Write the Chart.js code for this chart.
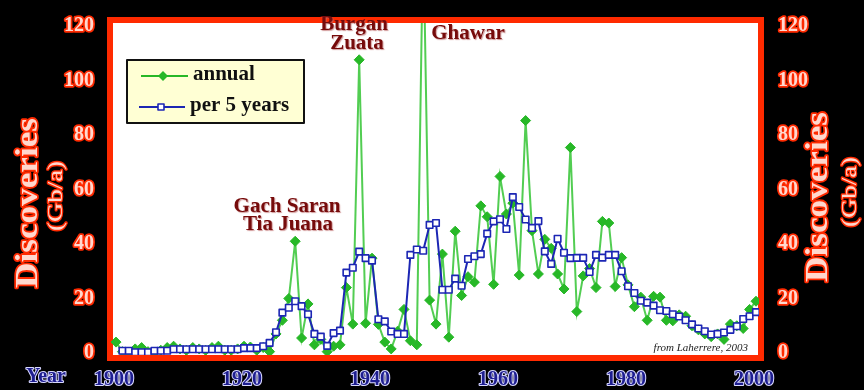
<!DOCTYPE html>
<html>
<head>
<meta charset="utf-8">
<script src="https://cdn.jsdelivr.net/npm/chart.js@4.4.1/dist/chart.umd.min.js"></script>
<style>
  html, body { margin: 0; padding: 0; background: #000; }
  #wrap { width: 864px; height: 390px; }
</style>
</head>
<body>
<div id="wrap"><canvas id="discoveriesChart" width="864" height="390"></canvas></div>
<script>
// Oil discoveries per year and the 5-year running figure, Gb per year
const annualYears = [
  1900, 1901, 1902, 1903, 1904, 1905, 1906, 1907, 1908, 1909,
  1910, 1911, 1912, 1913, 1914, 1915, 1916, 1917, 1918, 1919,
  1920, 1921, 1922, 1923, 1924, 1925, 1926, 1927, 1928, 1929,
  1930, 1931, 1932, 1933, 1934, 1935, 1936, 1937, 1938, 1939,
  1940, 1941, 1942, 1943, 1944, 1945, 1946, 1947, 1948, 1949,
  1950, 1951, 1952, 1953, 1954, 1955, 1956, 1957, 1958, 1959,
  1960, 1961, 1962, 1963, 1964, 1965, 1966, 1967, 1968, 1969,
  1970, 1971, 1972, 1973, 1974, 1975, 1976, 1977, 1978, 1979,
  1980, 1981, 1982, 1983, 1984, 1985, 1986, 1987, 1988, 1989,
  1990, 1991, 1992, 1993, 1994, 1995, 1996, 1997, 1998, 1999,
  2000
];
const annualGb = [
  4, 0.5, 0.3, 1.5, 2, 0.5, 0.3, 1, 2, 2.5,
  1.5, 1, 2, 1.5, 1, 2, 2.5, 1, 1, 1.5,
  2.5, 2.2, 1, 2, 0.5, 7, 12, 20, 41, 5.5,
  18, 3, 5, 0.5, 2.5, 3, 24, 10.6, 107.6, 10.9,
  34.8, 10.5, 4, 1.5, 8, 16, 4.5, 3, 155, 19.4,
  10.6, 36.3, 5.8, 44.7, 21.1, 28, 26, 54, 50, 25.2,
  64.8, 51, 55, 28.6, 85.3, 44.9, 29, 41.7, 38.4, 29,
  23.5, 75.4, 15.2, 28.3, 31, 24, 48.3, 47.7, 24.4, 35,
  25, 17, 20.5, 12, 20.8, 20.5, 12, 11.8, 14, 13.5,
  10, 8.5, 7, 6, 7, 5, 10.6, 10, 9, 16,
  19
];

const fiveYearYears = [
  1901, 1902, 1903, 1904, 1905, 1906, 1907, 1908, 1909, 1910,
  1911, 1912, 1913, 1914, 1915, 1916, 1917, 1918, 1919, 1920,
  1921, 1922, 1923, 1924, 1925, 1926, 1927, 1928, 1929, 1930,
  1931, 1932, 1933, 1934, 1935, 1936, 1937, 1938, 1939, 1940,
  1941, 1942, 1943, 1944, 1945, 1946, 1947, 1948, 1949, 1950,
  1951, 1952, 1953, 1954, 1955, 1956, 1957, 1958, 1959, 1960,
  1961, 1962, 1963, 1964, 1965, 1966, 1967, 1968, 1969, 1970,
  1971, 1972, 1973, 1974, 1975, 1976, 1977, 1978, 1979, 1980,
  1981, 1982, 1983, 1984, 1985, 1986, 1987, 1988, 1989, 1990,
  1991, 1992, 1993, 1994, 1995, 1996, 1997, 1998, 1999, 2000
];
const fiveYearGb = [
  0.8, 0.8, 0.3, 0.3, 0.3, 0.8, 0.8, 0.8, 1.4, 1.4,
  1.4, 1.4, 1.4, 1.4, 1.4, 1.4, 1.4, 1.4, 1.4, 1.8,
  1.8, 1.8, 2.5, 3.7, 7.6, 14.8, 16.6, 19, 17.2, 14.2,
  7, 6, 2.6, 7.3, 8.2, 29.5, 31.3, 37.2, 34.8, 33.9,
  12.4, 11.6, 7.9, 7, 7, 36, 38, 37.5, 47, 47.7,
  23.2, 23.2, 27.3, 24.7, 34.5, 35.5, 36.3, 43.8, 48.3, 49.1,
  45.5, 57.2, 53.6, 49, 45.9, 48.4, 37.3, 32.7, 41.9, 36.8,
  34.8, 34.9, 34.9, 29.7, 36, 35, 36, 36, 30, 24.5,
  22, 19.2, 18.5, 17.4, 15.7, 15.4, 14.2, 13.4, 12, 10.5,
  9, 8, 6.8, 7, 7.5, 8.5, 9.8, 12.5, 13.5, 15
];

const yearTicks = [1900, 1920, 1940, 1960, 1980, 2000];
const discoveryTicks = [0, 20, 40, 60, 80, 100, 120];

const SERIF = '"Liberation Serif", "Times New Roman", serif';
const RED = '#ff2a00';
const GREEN = '#27b827';
const BLUE = '#1c26b4';

function outlined(ctx, text, x, y, fill, stroke, width) {
  if (width) {
    ctx.strokeStyle = stroke;
    ctx.lineWidth = width;
    ctx.strokeText(text, x, y);
  }
  ctx.fillStyle = fill;
  ctx.fillText(text, x, y);
}

// rotated axis title, stretched along its length to the given size
function sideTitle(ctx, text, cx, cy, font, length, strokeW) {
  ctx.save();
  ctx.translate(cx, cy);
  ctx.rotate(-Math.PI / 2);
  ctx.font = font;
  const w = ctx.measureText(text).width;
  ctx.scale(length / w, 1);
  ctx.textAlign = 'center';
  ctx.textBaseline = 'middle';
  ctx.lineJoin = 'round';
  outlined(ctx, text, 0, 0, '#ffd8ce', RED, strokeW);
  ctx.restore();
}

// black page, red frame and white plotting field
const framePlugin = {
  id: 'frame',
  beforeDraw(chart) {
    const ctx = chart.ctx;
    const a = chart.chartArea;
    ctx.lineJoin = 'round';
    ctx.save();
    ctx.fillStyle = '#000';
    ctx.fillRect(0, 0, chart.width, chart.height);
    ctx.fillStyle = RED;
    ctx.fillRect(a.left - 9, a.top - 9, a.right - a.left + 17, a.bottom - a.top + 17);
    ctx.fillStyle = '#fff';
    ctx.fillRect(a.left - 3, a.top - 3, a.right - a.left + 5, a.bottom - a.top + 5);
    ctx.restore();
  }
};

// legend box, field names, source note and axis titles
const labelPlugin = {
  id: 'labels',
  afterDatasetsDraw(chart) {
    const ctx = chart.ctx;
    ctx.save();
    ctx.lineJoin = 'round';

    // legend
    ctx.fillStyle = '#ffffd4';
    ctx.fillRect(127, 60, 177, 63);
    ctx.strokeStyle = '#111';
    ctx.lineWidth = 2;
    ctx.strokeRect(127, 60, 177, 63);

    ctx.strokeStyle = GREEN;
    ctx.lineWidth = 2;
    ctx.beginPath(); ctx.moveTo(141, 76); ctx.lineTo(188, 76); ctx.stroke();
    ctx.fillStyle = GREEN;
    ctx.beginPath();
    ctx.moveTo(163, 71); ctx.lineTo(168, 76); ctx.lineTo(163, 81); ctx.lineTo(158, 76);
    ctx.closePath(); ctx.fill();

    ctx.strokeStyle = BLUE;
    ctx.beginPath(); ctx.moveTo(139, 107); ctx.lineTo(185, 107); ctx.stroke();
    ctx.fillStyle = '#fff';
    ctx.fillRect(158, 104, 6, 6);
    ctx.lineWidth = 1.6;
    ctx.strokeRect(158, 104, 6, 6);

    ctx.font = 'bold 21px ' + SERIF;
    ctx.textAlign = 'left';
    ctx.textBaseline = 'middle';
    ctx.fillStyle = '#111';
    ctx.fillText('annual', 193, 75);
    ctx.fillText('per 5 years', 190, 106);

    // field names
    ctx.font = 'bold 21px ' + SERIF;
    ctx.textAlign = 'center';
    ctx.shadowColor = 'rgba(190, 110, 110, 0.7)';
    ctx.shadowOffsetX = 1;
    ctx.shadowOffsetY = 1;
    ctx.shadowBlur = 1;
    ctx.fillStyle = '#760b0b';
    ctx.fillText('Burgan', 354, 25);
    ctx.fillText('Zuata', 357, 44);
    ctx.fillText('Ghawar', 468, 34);
    ctx.fillText('Gach Saran', 287, 207);
    ctx.fillText('Tia Juana', 288, 225);
    ctx.shadowColor = 'transparent';

    // source note
    ctx.font = 'italic 11px ' + SERIF;
    ctx.textAlign = 'right';
    ctx.fillStyle = '#222';
    ctx.fillText('from Laherrere, 2003', 748, 348);

    ctx.restore();
  },
  afterDraw(chart) {
    const ctx = chart.ctx;
    ctx.save();
    ctx.lineJoin = 'round';
    ctx.font = 'bold 20px ' + SERIF;
    ctx.textAlign = 'center';
    ctx.textBaseline = 'middle';
    outlined(ctx, 'Year', 46, 377, '#1e1e90', '#d8d8ff', 2);
    ctx.restore();

    sideTitle(ctx, 'Discoveries', 29, 203, 'bold 32px ' + SERIF, 170, 3.5);
    sideTitle(ctx, '(Gb/a)', 56, 196, '21px ' + SERIF, 70, 2.5);
    sideTitle(ctx, 'Discoveries', 819, 197, 'bold 32px ' + SERIF, 170, 3.5);
    sideTitle(ctx, '(Gb/a)', 850, 192, '21px ' + SERIF, 70, 2.5);
  }
};

const tickFont = { family: SERIF, size: 20, weight: 'bold' };
const yTicks = {
  padding: 14,
  font: tickFont,
  color: '#ffd8ce',
  textStrokeColor: RED,
  textStrokeWidth: 3.5,
  callback: v => String(v)
};
const plotClip = { left: 5, top: 3, right: 3, bottom: 2 };

new Chart(document.getElementById('discoveriesChart'), {
  type: 'line',
  data: {
    datasets: [{
      label: 'per 5 years',
      data: fiveYearYears.map((yr, i) => ({ x: yr, y: fiveYearGb[i] })),
      borderColor: BLUE,
      borderWidth: 2,
      pointStyle: 'rect',
      pointRadius: 4.6,
      pointBackgroundColor: '#fff',
      pointBorderColor: BLUE,
      pointBorderWidth: 1.6,
      tension: 0,
      clip: plotClip,
      order: 0
    }, {
      label: 'annual',
      data: annualYears.map((yr, i) => ({ x: yr, y: annualGb[i] })),
      borderColor: 'rgba(52, 196, 52, 0.85)',
      borderWidth: 2,
      pointStyle: 'rectRot',
      pointRadius: 5,
      pointBackgroundColor: GREEN,
      pointBorderColor: GREEN,
      pointBorderWidth: 1,
      tension: 0,
      clip: plotClip,
      order: 1
    }]
  },
  options: {
    responsive: false,
    animation: false,
    devicePixelRatio: 1,
    layout: { padding: { top: 18, left: 0, right: 0, bottom: 0 } },
    plugins: {
      legend: { display: false },
      tooltip: { enabled: false }
    },
    scales: {
      x: {
        type: 'linear',
        min: 1900,
        max: 2000,
        grid: { display: false },
        border: { display: false },
        afterBuildTicks: s => { s.ticks = yearTicks.map(v => ({ value: v })); },
        afterFit: s => { s.height = 37; },
        ticks: {
          padding: 7,
          labelOffset: -2,
          maxRotation: 0,
          autoSkip: false,
          font: tickFont,
          color: '#1e1e90',
          textStrokeColor: '#d8d8ff',
          textStrokeWidth: 2,
          callback: v => String(v)
        }
      },
      y: {
        position: 'left',
        min: 0,
        max: 120,
        grid: { display: false },
        border: { display: false },
        afterBuildTicks: s => { s.ticks = discoveryTicks.map(v => ({ value: v })); },
        afterFit: s => { s.width = 116; },
        ticks: yTicks
      },
      y2: {
        position: 'right',
        min: 0,
        max: 120,
        grid: { display: false },
        border: { display: false },
        afterBuildTicks: s => { s.ticks = discoveryTicks.map(v => ({ value: v })); },
        afterFit: s => { s.width = 108; },
        ticks: yTicks
      }
    }
  },
  plugins: [framePlugin, labelPlugin]
});
</script>
</body>
</html>
